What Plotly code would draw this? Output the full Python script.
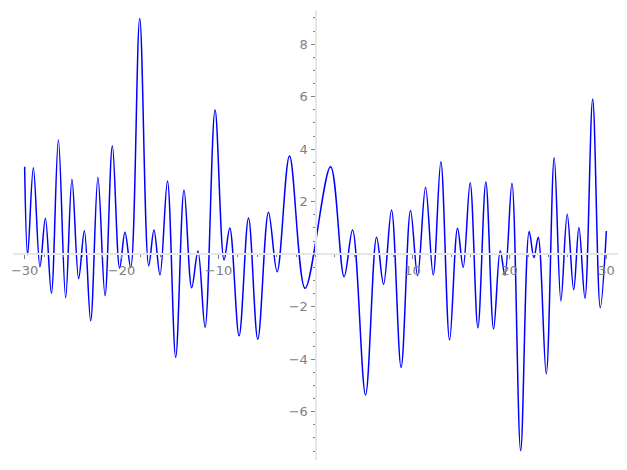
import plotly.graph_objects as go

# local peaks / troughs (x, y)
xs = [-30.0, -29.69, -29.10, -28.42, -27.86, -27.24, -26.52, -25.77, -25.12, -24.43,
      -23.84, -23.19, -22.44, -21.71, -20.95, -20.20, -19.65, -19.06, -18.13, -17.20,
      -16.66, -16.04, -15.27, -14.42, -13.56, -12.77, -12.12, -11.39, -10.36, -9.43,
      -8.84, -7.88, -6.91, -5.95, -4.85, -3.96, -2.68, -1.07, 1.55, 2.95,
      3.82, 5.16, 6.30, 7.02, 7.84, 8.83, 9.80, 10.53, 11.35, 12.14,
      12.93, 13.83, 14.65, 15.23, 15.95, 16.75, 17.57, 18.37, 19.05, 19.54,
      20.26, 21.16, 22.04, 22.53, 22.97, 23.80, 24.62, 25.31, 25.96, 26.63,
      27.17, 27.79, 28.59, 29.37, 30.0]
ys = [3.33, -0.03, 3.29, -0.48, 1.37, -1.49, 4.35, -1.66, 2.85, -0.93,
      0.89, -2.54, 2.93, -1.58, 4.13, -0.54, 0.83, -0.51, 8.98, -0.44,
      0.92, -0.79, 2.79, -3.93, 2.44, -1.28, 0.12, -2.78, 5.49, -0.22,
      1.00, -3.11, 1.38, -3.24, 1.60, -0.67, 3.74, -1.30, 3.33, -0.86,
      0.92, -5.36, 0.64, -1.15, 1.68, -4.32, 1.66, -0.82, 2.55, -0.79,
      3.52, -3.27, 0.99, -0.51, 2.72, -2.80, 2.75, -2.85, 0.13, -0.80,
      2.70, -7.49, 0.86, -0.13, 0.64, -4.56, 3.67, -1.78, 1.52, -1.36,
      1.02, -1.68, 5.91, -2.04, 0.88]

x_ticks = [-30, -20, -10, 10, 20, 30]
x_labels = ["\u221230", "\u221220", "\u221210", "10", "20", "30"]
y_ticks = [-6, -4, -2, 2, 4, 6, 8]
y_labels = ["\u22126", "\u22124", "\u22122", "2", "4", "6", "8"]

x_rng = [-31.2, 31.2]
y_rng = [-7.84, 9.30]

fig = go.Figure()
fig.add_trace(go.Scatter(
    x=xs, y=ys, mode="lines",
    line=dict(color="#0000ff", width=1.5, shape="spline", smoothing=1.0),
    showlegend=False, hoverinfo="skip"
))

grey = "#808080"
axis_common = dict(
    showline=True, linecolor="#e6e6e6", linewidth=2,
    ticks="outside", tickcolor=grey, ticklen=4, tickwidth=1,
    showgrid=False, zeroline=False, automargin=False,
    tickfont=dict(family="DejaVu Sans", size=13, color=grey),
    anchor="free",
)

# page body adds an 8px offset, margins below allow for it
fig.update_layout(
    width=627, height=470,
    margin=dict(l=5, r=17, t=2, b=18),
    plot_bgcolor="white", paper_bgcolor="white",
    xaxis=dict(range=x_rng, tickmode="array", tickvals=x_ticks, ticktext=x_labels,
               position=(0 - y_rng[0]) / (y_rng[1] - y_rng[0]),
               minor=dict(ticks="outside", dtick=2, tick0=0, ticklen=2, tickcolor=grey),
               **axis_common),
    yaxis=dict(range=y_rng, tickmode="array", tickvals=y_ticks, ticktext=y_labels,
               position=(0 - x_rng[0]) / (x_rng[1] - x_rng[0]),
               minor=dict(ticks="outside", dtick=0.5, tick0=0, ticklen=2, tickcolor=grey),
               **axis_common),
)

fig.write_html("out.html")
